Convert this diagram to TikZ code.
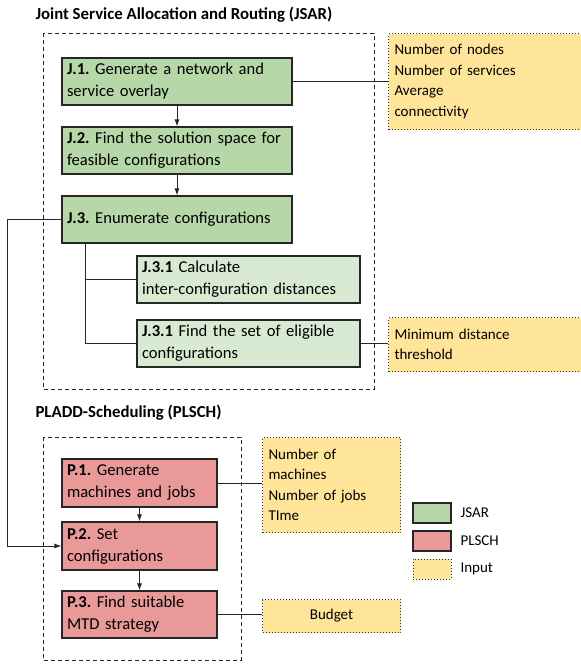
\documentclass[tikz,border=0pt]{standalone}
\usepackage{fontspec}
\setmainfont{Carlito}
\usetikzlibrary{arrows.meta}
\definecolor{jsarfill}{HTML}{B6D7A8}
\definecolor{subfill}{HTML}{D9EAD3}
\definecolor{plschfill}{HTML}{EA9999}
\definecolor{inputfill}{HTML}{FFE599}
\frenchspacing
\tikzset{
  stepbox/.style={draw=black!85, line width=1.1pt, align=left, inner xsep=5pt, inner ysep=0pt, minimum height=47pt, font=\fontsize{16.6}{22}\selectfont},
  jsarbox/.style={stepbox, fill=jsarfill},
  subbox/.style={stepbox, fill=subfill},
  plschbox/.style={stepbox, fill=plschfill},
  inbox/.style={draw=black!80, dotted, line width=1pt, fill=inputfill, align=left, inner xsep=6pt, inner ysep=0pt, anchor=north west},
  groupbox/.style={draw=black!85, dash pattern=on 4pt off 3pt, line width=1pt},
  title/.style={anchor=west, font=\fontsize{16.8}{20}\selectfont\bfseries},
  link/.style={draw=black!85, line width=1pt},
  flow/.style={link, -{Latex[length=7pt,width=5pt]}}
}
\begin{document}
\begin{tikzpicture}[x=1pt, y=-1pt, font=\fontsize{15}{20.5}\selectfont]
\useasboundingbox (0,0) rectangle (581,665);
        % JSAR
        \node[title] (tjsar) at (32,15){Joint Service Allocation and Routing (JSAR)};
        \draw[groupbox] (43,33) rectangle (374,389);

        \node[jsarbox, text width=220pt] (j1) at (177,81.5){\textbf{J.1.} Generate a network and\\service overlay};
        \node[jsarbox, text width=220pt] (j2) at (177,150.5){\textbf{J.2.} Find the solution space for\\feasible configurations};
        \node[jsarbox, text width=220pt] (j3) at (177,219.5){\textbf{J.3.} Enumerate configurations};
            \node[subbox, text width=213pt] (j31) at (248.5,279.5){\textbf{J.3.1} Calculate\\inter-configuration distances};
            \node[subbox, text width=213pt] (j32) at (248.5,343.5){\textbf{J.3.1} Find the set of eligible\\configurations};

        \node[inbox, text width=185pt, minimum height=96pt] (in1) at (388,33){Number of nodes\\Number of services\\Average\\connectivity};
        \node[inbox, text width=185pt, minimum height=54pt] (in2) at (388,317){Minimum distance\\threshold};

        \draw[flow] (j1) to (j2);
        \draw[flow] (j2) to (j3);
        \coordinate (tree) at ([xshift=24pt]j3.south west);
        \draw[link] (tree) |- (j31.west);
        \draw[link] (tree) |- (j32.west);
        \draw[link] (j1.east) to (j1.east -| in1.west);
        \draw[link] (j32.east) to (j32.east -| in2.west);

        % PLSCH
        \node[title] (tplsch) at (32,413){PLADD-Scheduling (PLSCH)};
        \draw[groupbox] (43,437) rectangle (241,660);

        \node[plschbox, text width=145pt, minimum height=48pt] (p1) at (139.5,483){\textbf{P.1.} Generate\\machines and jobs};
        \node[plschbox, text width=145pt, minimum height=48pt] (p2) at (139.5,546){\textbf{P.2.} Set\\configurations};
        \node[plschbox, text width=145pt] (p3) at (139.5,614.5){\textbf{P.3.} Find suitable\\MTD strategy};

        \node[inbox, text width=126pt, minimum height=95pt] (in3) at (262,437){Number of\\machines\\Number of jobs\\TIme};
        \node[inbox, text width=126pt, minimum height=33pt, align=center] (in4) at (262,599){Budget};

        \draw[flow] (p1) to (p2);
        \draw[flow] (p2) to (p3);
        \draw[link] (p1.east) to (p1.east -| in3.west);
        \draw[link] (p3.east) to (p3.east -| in4.west);

        \draw[flow] (j3.west) to ([xshift=-54pt]j3.west) |- (p2.west);

        % legend
        \node[stepbox, fill=jsarfill, minimum width=38pt, minimum height=20pt] (kj) at (432,513){};
        \node[anchor=west] (lj) at (457,513){JSAR};
        \node[stepbox, fill=plschfill, minimum width=38pt, minimum height=20pt] (kp) at (432,541){};
        \node[anchor=west] (lp) at (457,541){PLSCH};
        \node[inbox, anchor=center, minimum width=38pt, minimum height=20pt] (ki) at (432,569){};
        \node[anchor=west] (li) at (457,569){Input};
\end{tikzpicture}
\end{document}
